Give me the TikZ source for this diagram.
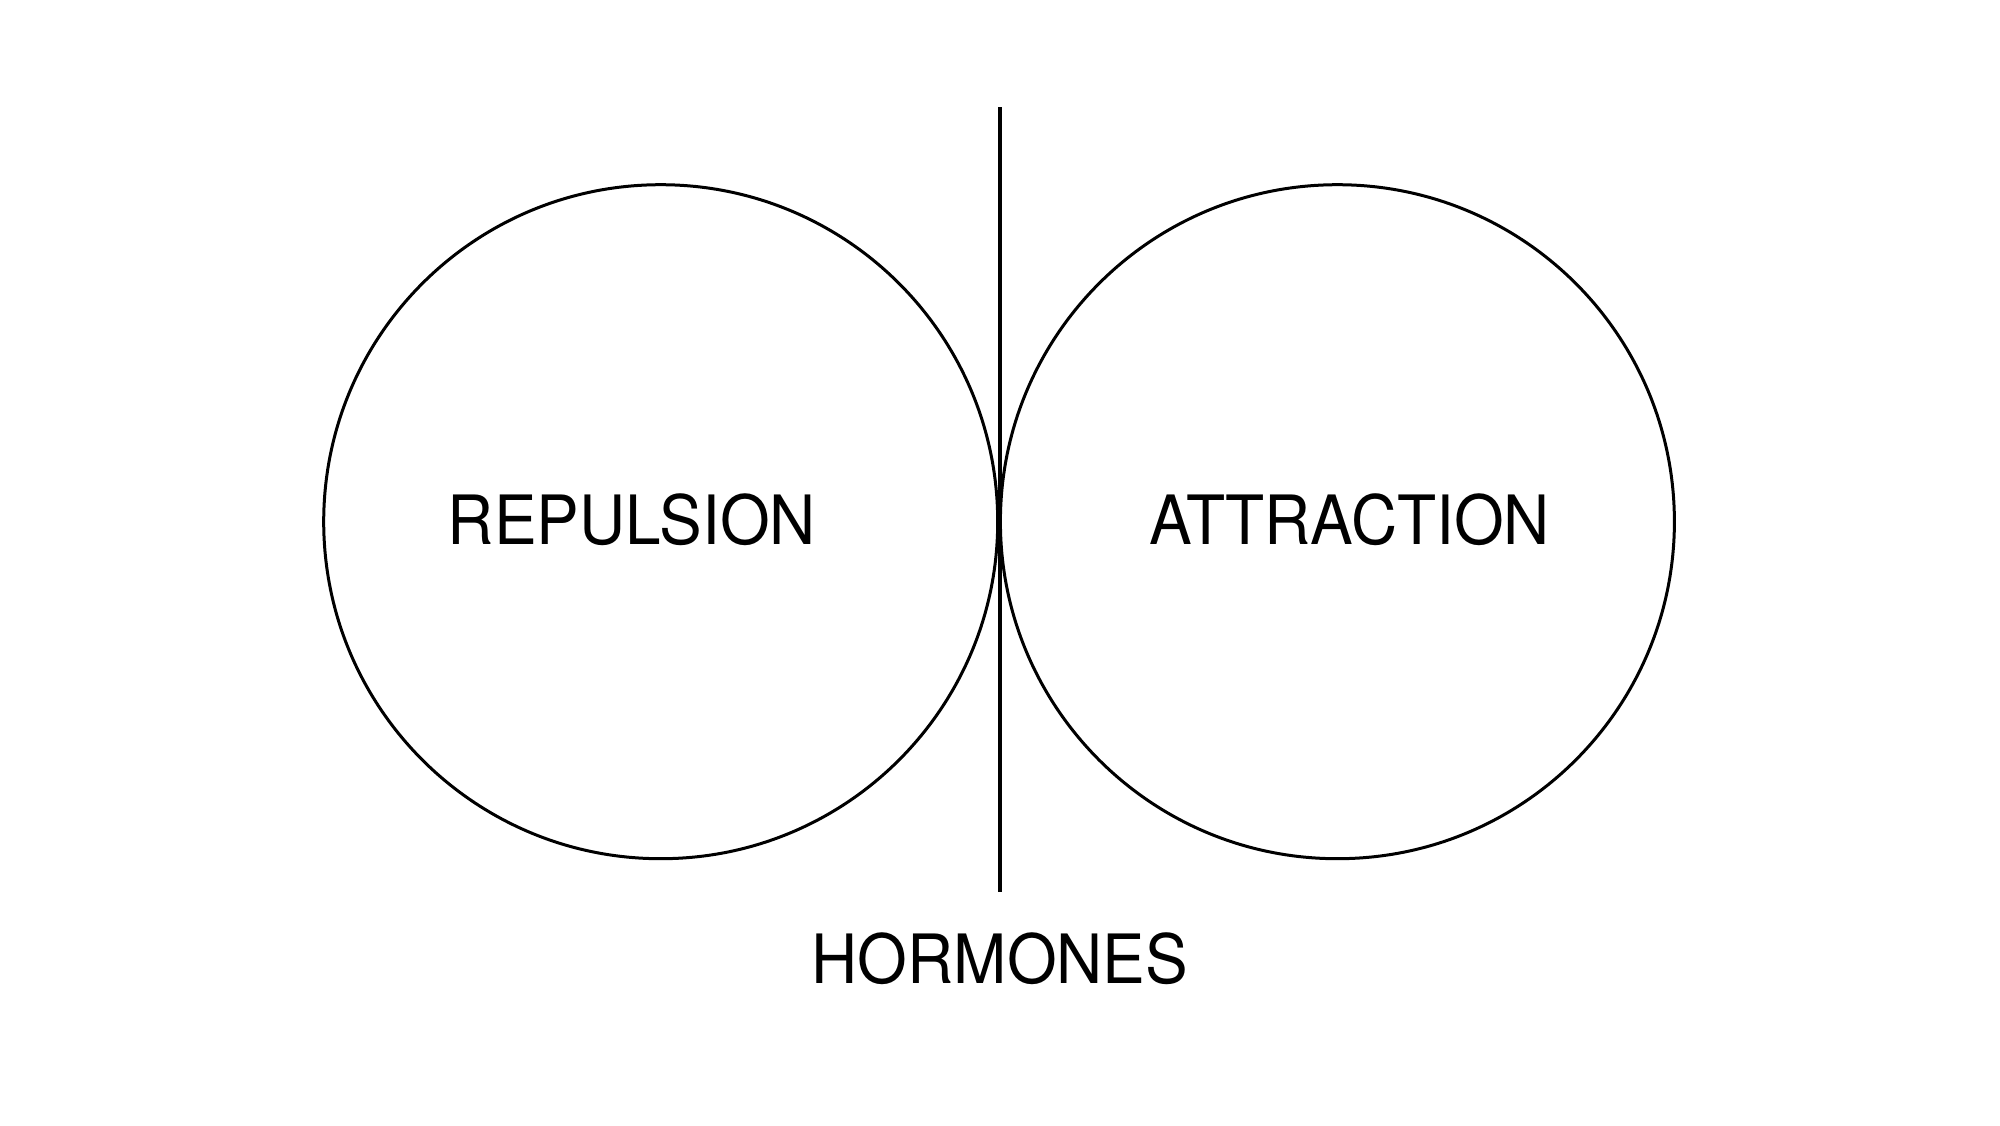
\documentclass[tikz,border=0pt]{standalone}
\usepackage{fontspec}
\setmainfont{TeX Gyre Heros}[FakeStretch=0.94]
\begin{document}
\begin{tikzpicture}[x=1pt,y=-1pt,
  ring/.style={draw=black,line width=3pt,circle,minimum size=674pt,inner sep=0pt},
  lbl/.style={font=\fontsize{68}{80}\selectfont,inner sep=0pt,anchor=base}]
\useasboundingbox (0,0) rectangle (2000,1125);
\node[ring] (rep) at (660.7,521.7) {};
\node[ring] (att) at (1337.4,521.7) {};
\coordinate (top) at (1000,107);
\coordinate (bot) at (1000,892);
\draw[line width=4pt] (top) -- (bot);
\node[lbl] (repl) at (632,544) {REPULSION};
\node[lbl] (attl) at (1350,544) {ATTRACTION};
\node[lbl] (horm) at (1000,983) {HORMONES};
\end{tikzpicture}
\end{document}
